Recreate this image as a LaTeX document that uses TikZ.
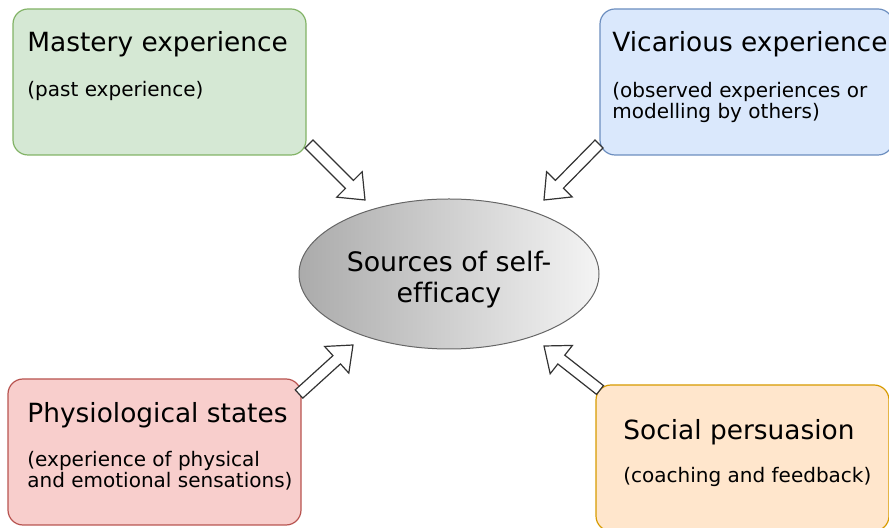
\documentclass[tikz,border=0pt]{standalone}
\usepackage{fontspec}
\setmainfont{DejaVu Sans}[Ligatures=NoCommon]
\usetikzlibrary{shapes.geometric,calc}

\definecolor{greenfill}{HTML}{D5E8D4}
\definecolor{greendraw}{HTML}{82B366}
\definecolor{bluefill}{HTML}{DAE8FC}
\definecolor{bluedraw}{HTML}{6C8EBF}
\definecolor{redfill}{HTML}{F8CECC}
\definecolor{reddraw}{HTML}{B85450}
\definecolor{orangefill}{HTML}{FFE6CC}
\definecolor{orangedraw}{HTML}{D79B00}
\definecolor{hubleft}{HTML}{ABABAB}
\definecolor{hubright}{HTML}{F4F4F4}
\definecolor{hubdraw}{HTML}{666666}
\definecolor{arrowdraw}{HTML}{333333}

% hollow block arrow from #1 to #2
\newcommand\hollowarrow[2]{%
  \coordinate (ha-n) at ($(#2)!11pt!(#1)$);
  \draw[blockarrow] ($(#1)!2.8pt!90:(#2)$) -- ($(ha-n)!2.8pt!90:(#2)$)
    -- ($(ha-n)!9pt!90:(#2)$) -- (#2) -- ($(ha-n)!9pt!-90:(#2)$)
    -- ($(ha-n)!2.8pt!-90:(#2)$) -- ($(#1)!2.8pt!-90:(#2)$) -- cycle;}

\begin{document}
\begin{tikzpicture}[x=0.5pt, y=-0.5pt,
    srcbox/.style={rectangle, rounded corners=7.5pt, line width=0.6pt, minimum width=146.5pt, minimum height=73pt, inner sep=0pt},
    srctitle/.style={anchor=base west, inner sep=0pt, font=\fontsize{13.2}{15.8}\selectfont},
    srcnote/.style={anchor=base west, inner sep=0pt, align=left, font=\fontsize{10}{10.9}\selectfont},
    hub/.style={ellipse, draw=hubdraw, line width=0.5pt, left color=hubleft, right color=hubright, minimum width=150pt, minimum height=75pt, inner sep=0pt},
    hubtext/.style={align=center, inner sep=0pt, font=\fontsize{13.4}{15.5}\selectfont},
    blockarrow/.style={draw=arrowdraw, fill=white, line width=0.6pt, line join=miter}]
  \clip (0,0) rectangle (889,528);

  % the four sources
  \node[srcbox, fill=greenfill, draw=greendraw] (mastery) at (159.5,82) {};
  \node[srcbox, fill=bluefill, draw=bluedraw] (vicarious) at (746.5,82) {};
  \node[srcbox, fill=redfill, draw=reddraw] (physio) at (154.5,452) {};
  \node[srcbox, fill=orangefill, draw=orangedraw] (social) at (742.5,458) {};

  % base of a two-line note is its last line
  \node[srctitle] (mastery-t) at (27,52) {Mastery experience};
  \node[srcnote] (mastery-n) at (27,97) {(past experience)};
  \node[srctitle] (vicarious-t) at (612,52) {Vicarious experience};
  \node[srcnote] (vicarious-n) at (612,119) {(observed experiences or\\modelling by others)};
  \node[srctitle] (physio-t) at (27,423) {Physiological states};
  \node[srcnote] (physio-n) at (27,488) {(experience of physical\\and emotional sensations)};
  \node[srctitle] (social-t) at (623,440) {Social persuasion};
  \node[srcnote] (social-n) at (623,483) {(coaching and feedback)};

  % centre
  \node[hub] (hub) at (449,274) {};
  \node[hubtext] (hub-t) at ($(hub.center)+(0,5.5)$) {Sources of self-\\efficacy};

  \coordinate (mastery-out) at (309,144);
  \coordinate (vicarious-out) at (599,144);
  \coordinate (physio-out) at (299,394);
  \coordinate (social-out) at (600,390);
  \coordinate (hub-nw) at (365,200);
  \coordinate (hub-ne) at (544,200);
  \coordinate (hub-sw) at (353,345);
  \coordinate (hub-se) at (544,346);

  \hollowarrow{mastery-out}{hub-nw}
  \hollowarrow{vicarious-out}{hub-ne}
  \hollowarrow{physio-out}{hub-sw}
  \hollowarrow{social-out}{hub-se}
\end{tikzpicture}
\end{document}
